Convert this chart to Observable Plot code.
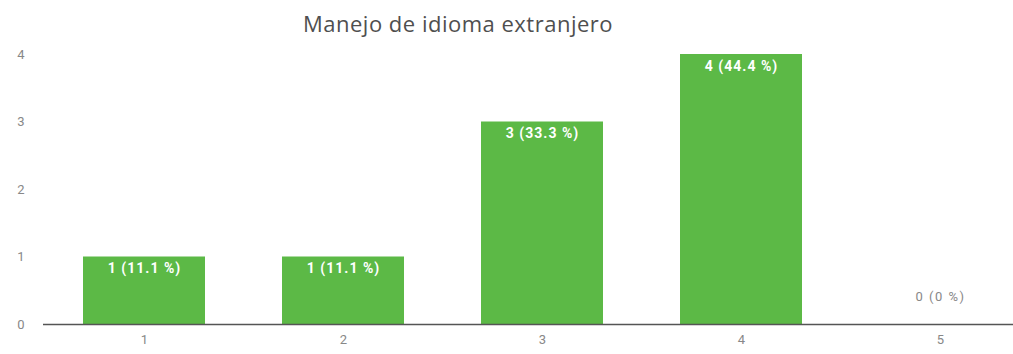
<!DOCTYPE html>
<html>
<head>
<meta charset="utf-8">
<script src="https://cdn.jsdelivr.net/npm/d3@7"></script>
<script src="https://cdn.jsdelivr.net/npm/@observablehq/plot@0.6"></script>
<style>
  html, body { margin: 0; padding: 0; background: #fff; }
  #wrap { width: 1013px; height: 354px; position: relative; overflow: hidden; }
  #title { position: relative; height: 44px; }
  #title span { position: absolute; left: 303px; top: 9px; font-family: "Open Sans", sans-serif; font-size: 22px; letter-spacing: 0.5px; line-height: 28px; color: #4f4f4f; white-space: nowrap; }
  svg { display: block; }
  .barlabel text { letter-spacing: 1px; }
  .zerolabel text { letter-spacing: 1.5px; }
</style>
</head>
<body>
<div id="wrap">
  <div id="title"><span>Manejo de idioma extranjero</span></div>
  <div id="chart"></div>
</div>
<script>
const categories = ["1", "2", "3", "4", "5"];
const counts = [1, 1, 3, 4, 0];
const percents = ["11.1", "11.1", "33.3", "44.4", "0"];
const yTicks = [0, 1, 2, 3, 4];

const data = categories.map((c, i) => ({
  cat: c,
  count: counts[i],
  label: `${counts[i]} (${percents[i]} %)`
}));

const chart = Plot.plot({
  width: 1013,
  height: 310,
  marginTop: 10,
  marginBottom: 30,
  marginLeft: 43,
  marginRight: 0,
  style: { fontFamily: "Roboto, sans-serif", fontSize: "13px", color: "#888", background: "transparent" },
  x: { domain: categories, range: [43, 1040], paddingInner: 0.388, paddingOuter: 0.196, label: null, tickSize: 0, tickPadding: 10 },
  y: { domain: [0, 4], ticks: yTicks, label: null, tickSize: 0, tickPadding: 19, tickFormat: d3.format("d") },
  marks: [
    Plot.barY(data, { x: "cat", y: "count", fill: "#5cb946" }),
    Plot.ruleY([0], { stroke: "#555", strokeWidth: 1.5 }),
    Plot.text(data.filter(d => d.count > 0), { x: "cat", y: "count", text: "label", dy: 12, fill: "white", fontWeight: "bold", fontSize: 14, className: "barlabel" }),
    Plot.text(data.filter(d => d.count === 0), { x: "cat", y: "count", text: "label", dy: -28, fill: "#888", fontSize: 13, className: "zerolabel" })
  ]
});
document.getElementById("chart").appendChild(chart);
</script>
</body>
</html>
